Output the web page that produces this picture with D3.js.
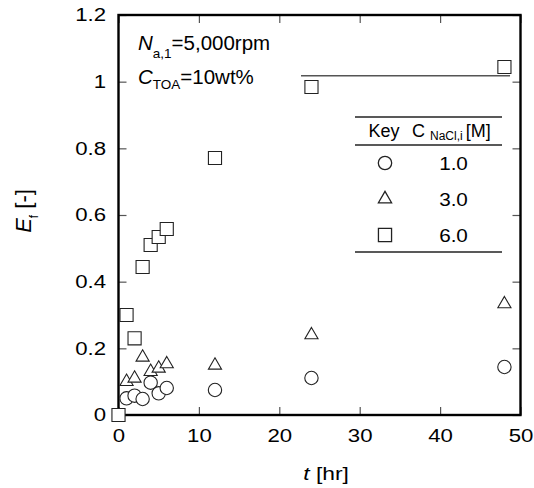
<!DOCTYPE html>
<html><head><meta charset="utf-8">
<script src="https://cdn.jsdelivr.net/npm/d3@7"></script>
<style>body{margin:0;background:#fff}svg{display:block}text{font-family:"Liberation Sans",Arial,sans-serif;fill:#000}</style>
</head><body><svg id="c" width="534" height="488"></svg>
<script>
// data
const tCircle = [1, 2, 3, 4, 5, 6, 12, 24, 48];
const eCircle = [0.05, 0.058, 0.048, 0.097, 0.065, 0.081, 0.075, 0.111, 0.144];
const tTriangle = [1, 2, 3, 4, 5, 6, 12, 24, 48];
const eTriangle = [0.10, 0.11, 0.173, 0.13, 0.14, 0.153, 0.149, 0.24, 0.333];
const tSquare = [0, 1, 2, 3, 4, 5, 6, 12, 24, 48];
const eSquare = [0, 0.30, 0.23, 0.444, 0.51, 0.534, 0.558, 0.771, 0.984, 1.044];
const lineT = [22.7, 48.7];
const lineE = [1.018, 1.018];
const xTicks = [0, 10, 20, 30, 40, 50];
const yTicks = [0, 0.2, 0.4, 0.6, 0.8, 1, 1.2];
const legendKeys = ["circle", "triangle", "square"];
const legendLabels = ["1.0", "3.0", "6.0"];

const svg = d3.select("#c");
const x = d3.scaleLinear().domain([0, 50]).range([118.5, 520.5]);
const y = d3.scaleLinear().domain([0, 1.2]).range([415, 15]);

const fmtY = d => d === 0 ? "0" : d === 1 ? "1" : d3.format(".1f")(d);

function stretch(sel, k) {
  sel.each(function () {
    const t = d3.select(this);
    const tx = +t.attr("x") || 0, ty = +t.attr("y") || 0;
    t.attr("x", 0).attr("y", 0).attr("transform", `translate(${tx},${ty}) scale(${k},1)`);
  });
}
function styleAxis(g, labels) {
  g.select(".domain").remove();
  g.selectAll(".tick line").attr("stroke", "#555").attr("stroke-width", 1.2);
  g.selectAll(".tick text").style("font-size", "18.5px").style("font-family", "Liberation Sans, Arial, sans-serif");
  if (!labels) g.selectAll(".tick text").remove();
  else stretch(g.selectAll(".tick text"), 1.2);
}
svg.append("g").attr("transform", "translate(0,415)")
  .call(d3.axisBottom(x).tickValues(xTicks).tickSize(-8).tickPadding(14).tickFormat(d3.format("d")))
  .call(g => styleAxis(g, true));
svg.append("g").attr("transform", "translate(0,15)")
  .call(d3.axisTop(x).tickValues(xTicks).tickSize(-8))
  .call(g => styleAxis(g, false));
svg.append("g").attr("transform", "translate(118.5,0)")
  .call(d3.axisLeft(y).tickValues(yTicks).tickSize(-8).tickPadding(12.5).tickFormat(fmtY))
  .call(g => styleAxis(g, true));
svg.append("g").attr("transform", "translate(520.5,0)")
  .call(d3.axisRight(y).tickValues(yTicks).tickSize(-8))
  .call(g => styleAxis(g, false));

// frame
svg.append("rect").attr("x", x(0)).attr("y", y(1.2))
  .attr("width", x(50) - x(0)).attr("height", y(0) - y(1.2))
  .attr("fill", "none").attr("stroke", "#000").attr("stroke-width", 2.4);

// equilibrium line
svg.append("path")
  .attr("d", d3.line().x((d, i) => x(lineT[i])).y((d, i) => y(lineE[i]))(lineT))
  .attr("stroke", "#555").attr("stroke-width", 1.5).attr("fill", "none");

const symbols = {
  circle: d3.symbol().type(d3.symbolCircle).size(140),
  triangle: d3.symbol().type(d3.symbolTriangle).size(75),
  square: d3.symbol().type(d3.symbolSquare).size(172)
};
function drawSeries(ts, es, key) {
  svg.append("g").selectAll("path").data(ts).join("path")
    .attr("transform", (d, i) => `translate(${x(d)},${y(es[i])})`)
    .attr("d", symbols[key]())
    .attr("fill", "#fff").attr("stroke", "#222").attr("stroke-width", 1.1);
}
drawSeries(tCircle, eCircle, "circle");
drawSeries(tTriangle, eTriangle, "triangle");
drawSeries(tSquare, eSquare, "square");

// annotation
const a1 = svg.append("text").attr("x", 138).attr("y", 50).style("font-size", "20.5px");
a1.append("tspan").style("font-style", "italic").text("N");
a1.append("tspan").attr("dy", 8).style("font-size", "13.5px").text("a,1");
a1.append("tspan").attr("dy", -8).text("=5,000rpm");
const a2 = svg.append("text").attr("x", 138).attr("y", 83.5).style("font-size", "20.5px");
a2.append("tspan").style("font-style", "italic").text("C");
a2.append("tspan").attr("dy", 5).style("font-size", "13.5px").text("TOA");
a2.append("tspan").attr("dy", -5).text("=10wt%");

// axis titles
const xt = svg.append("text").attr("transform", "translate(326,480) scale(1.2,1)").attr("text-anchor", "middle").style("font-size", "19px");
xt.append("tspan").style("font-style", "italic").text("t");
xt.append("tspan").text(" [hr]");
const yt = svg.append("text").attr("transform", "translate(31,211) rotate(-90)").attr("text-anchor", "middle").style("font-size", "22px");
yt.append("tspan").style("font-style", "italic").text("E");
yt.append("tspan").attr("dy", 7).style("font-size", "12px").text("f");
yt.append("tspan").attr("dy", -7).text(" [-]");

// legend
const lg = svg.append("g");
[117, 145, 252].forEach(yy => lg.append("line").attr("x1", 355).attr("x2", 502).attr("y1", yy).attr("y2", yy).attr("stroke", "#222").attr("stroke-width", 1.5));
lg.append("text").attr("x", 384).attr("y", 137).attr("text-anchor", "middle").style("font-size", "18px").text("Key");
const hd = lg.append("text").attr("x", 412).attr("y", 137).style("font-size", "18px");
hd.append("tspan").text("C");
hd.append("tspan").attr("dx", 5).attr("dy", 3).style("font-size", "12px").text("NaCl,i");
hd.append("tspan").attr("dx", 3).attr("dy", -3).text("[M]");
legendKeys.forEach((k, i) => {
  const yy = 163 + i * 36;
  lg.append("path").attr("transform", `translate(385,${yy})`).attr("d", symbols[k]())
    .attr("fill", "#fff").attr("stroke", "#222").attr("stroke-width", 1.3);
  lg.append("text").attr("transform", `translate(453.5,${yy + 6.5}) scale(1.15,1)`).attr("text-anchor", "middle").style("font-size", "18px").text(legendLabels[i]);
});
</script></body></html>
